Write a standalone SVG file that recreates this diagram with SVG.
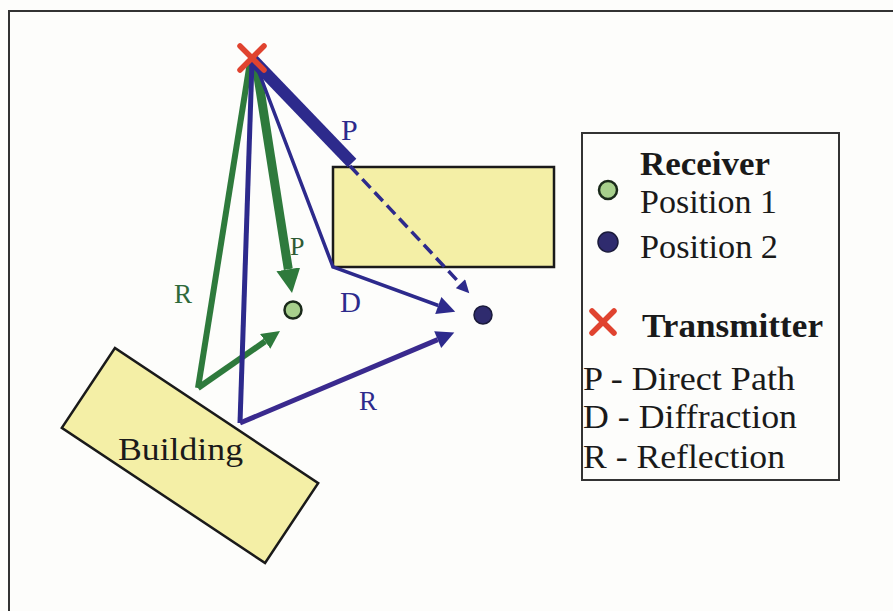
<svg xmlns="http://www.w3.org/2000/svg" width="893" height="611" viewBox="0 0 893 611">
<defs>
<style>
.t{font-family:"Liberation Serif","Times New Roman",serif;}
.lg{font-size:33px;fill:#1a1a1a;}
.b{font-weight:bold;}
.yel{fill:#f4efa6;stroke:#1a1a1a;stroke-width:2.5;}
.gr{stroke:#2e7a3c;fill:none;}
.bl{stroke:#2d2a8c;fill:none;}
.x{stroke:#e0432f;stroke-width:5.5;stroke-linecap:round;}
</style>
<marker id="ag" viewBox="0 0 10 10" refX="0" refY="5" markerUnits="userSpaceOnUse" markerWidth="24" markerHeight="24" orient="auto"><path d="M0,0 L10,5 L0,10 z" fill="#2e7a3c"/></marker>
<marker id="ag2" viewBox="0 0 10 10" refX="0" refY="5" markerUnits="userSpaceOnUse" markerWidth="18" markerHeight="18" orient="auto"><path d="M0,0 L10,5 L0,10 z" fill="#2e7a3c"/></marker>
<marker id="ab" viewBox="0 0 10 10" refX="0" refY="5" markerUnits="userSpaceOnUse" markerWidth="22" markerHeight="18" orient="auto"><path d="M0,0 L10,5 L0,10 z" fill="#2d2a8c"/></marker>
<marker id="ad" viewBox="0 0 10 10" refX="0" refY="5" markerUnits="userSpaceOnUse" markerWidth="14" markerHeight="13" orient="auto"><path d="M0,0 L10,5 L0,10 z" fill="#2d2a8c"/></marker>
</defs>
<rect x="0" y="0" width="893" height="611" fill="#fdfdfb"/>
<rect x="9" y="11" width="900" height="620" fill="none" stroke="#333" stroke-width="2"/>

<g id="building">
<rect class="yel" x="-122" y="-48" width="244" height="96" transform="translate(190,455.5) rotate(33.6)"/>
<text class="t" x="118" y="460" font-size="31" textLength="125" lengthAdjust="spacingAndGlyphs" fill="#1a1a1a">Building</text>
</g>
<g id="obstacle">
<rect class="yel" x="333" y="167" width="221" height="100"/>
</g>

<g id="connectors">
<line class="gr" x1="250" y1="62" x2="198" y2="388" stroke-width="6"/>
<line class="gr" x1="198" y1="388" x2="265.2" y2="341.3" stroke-width="6" marker-end="url(#ag2)"/>
<line class="gr" x1="256" y1="64" x2="288.3" y2="269.3" stroke-width="9" marker-end="url(#ag)"/>
<line class="bl" x1="252" y1="62" x2="240" y2="423" stroke-width="5"/>
<line x1="240" y1="423" x2="437.7" y2="339.6" stroke="#3a2a8e" stroke-width="5" marker-end="url(#ab)"/>
<polyline class="bl" points="255,62 333,267 438.3,305.5" stroke-width="3.5" stroke-linejoin="miter" marker-end="url(#ab)"/>
<line class="bl" x1="253" y1="60" x2="352" y2="163" stroke-width="12"/>
<line class="bl" x1="350" y1="166" x2="460.4" y2="283.8" stroke-width="3.5" stroke-dasharray="12,6" marker-end="url(#ad)"/>
</g>

<g id="transmitter">
<line class="x" x1="240" y1="46" x2="264" y2="70"/>
<line class="x" x1="264" y1="46" x2="240" y2="70"/>
</g>
<g id="rx1">
<circle cx="293" cy="310" r="8.5" fill="#a7d08c" stroke="#1a2a1a" stroke-width="2.5"/>
</g>
<g id="rx2">
<circle cx="483" cy="315" r="9" fill="#2f2b6e" stroke="#1a1a3a" stroke-width="1.5"/>
</g>

<g id="labels" class="t">
<text x="341" y="140" font-size="30" fill="#2d2a8c">P</text>
<text x="290" y="255" font-size="26" fill="#2e5a34">P</text>
<text x="174" y="303" font-size="27" fill="#2e6a3a">R</text>
<text x="340" y="312" font-size="29" fill="#2d2a8c">D</text>
<text x="359" y="410" font-size="27" fill="#2d2a8c">R</text>
</g>

<g id="legend">
<rect x="582" y="133" width="257" height="347" fill="#fdfdfb" stroke="#333" stroke-width="2"/>
<text class="t lg b" x="640" y="175" textLength="130" lengthAdjust="spacingAndGlyphs">Receiver</text>
<circle cx="608" cy="190" r="9" fill="#a7d08c" stroke="#1a2a1a" stroke-width="2.5"/>
<text class="t lg" x="640" y="213" textLength="137" lengthAdjust="spacingAndGlyphs">Position 1</text>
<circle cx="608" cy="242" r="10" fill="#2f2b6e" stroke="#1a1a3a" stroke-width="1.5"/>
<text class="t lg" x="640" y="258" textLength="138" lengthAdjust="spacingAndGlyphs">Position 2</text>
<line class="x" x1="592" y1="311" x2="614" y2="333" stroke-width="6"/>
<line class="x" x1="614" y1="311" x2="592" y2="333" stroke-width="6"/>
<text class="t lg b" x="642" y="337" textLength="181" lengthAdjust="spacingAndGlyphs">Transmitter</text>
<text class="t lg" x="583" y="390" textLength="212" lengthAdjust="spacingAndGlyphs">P - Direct Path</text>
<text class="t lg" x="583" y="428" textLength="214" lengthAdjust="spacingAndGlyphs">D - Diffraction</text>
<text class="t lg" x="583" y="468" textLength="202" lengthAdjust="spacingAndGlyphs">R - Reflection</text>
</g>
</svg>
